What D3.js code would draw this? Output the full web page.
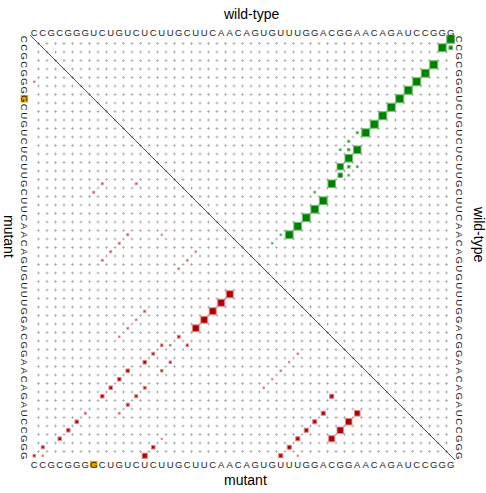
<!DOCTYPE html>
<html><head><meta charset="utf-8">
<script src="https://cdn.jsdelivr.net/npm/d3@7"></script>
<style>html,body{margin:0;padding:0;background:#fff}svg{display:block}</style>
</head><body><svg id="c" width="486" height="493"></svg>
<script>
const wtSeq = "CCGCGGGUCUGUCUCUUGCUUCAACAGUGUUUGGACGGAACAGAUCCGGG".split("");
const mutSeq = "CCGCGGGGCUGUCUCUUGCUUCAACAGUGUUUGGACGGAACAGAUCCGGG".split("");
const mutPositions = [7];

// wild-type pair probabilities (i < j), drawn in upper triangle (row i, col j)
const wtI = [0,1,1,3,4,5,6,7,8,9,10,11,11,12,13,13,13,14,15,15,15,16,16,17,18,19,20,21,22,23,23,24];
const wtJ = [49,48,49,47,46,45,44,43,42,41,40,39,38,37,38,37,36,37,36,37,38,36,37,35,33,34,33,32,31,30,29,28];
const wtP = [0.95,0.92,0.2,0.95,0.95,0.95,0.95,0.95,0.95,0.95,0.95,0.93,0.06,0.06,0.85,0.08,0.05,0.85,0.6,0.1,0.05,0.3,0.04,0.85,0.04,0.9,0.9,0.9,0.9,0.9,0.03,0.03];

// mutant pair probabilities (i < j), drawn in lower triangle (row j, col i)
const mutI = [0,8,12,7,11,10,9,8,13,12,11,10,13,11,10,9,13,8,12,11,6,10,5,4,3,1,0,1,13,15,19,18,17,23,22,21,20,19,17,15,16,18,14,16,15,27,15,14,31,30,29,28,35,34,38,33,37,32,36,31,35,30,29,31];
const mutJ = [5,17,17,18,23,24,25,26,32,33,34,35,38,39,40,41,41,42,42,43,44,44,45,46,47,48,49,49,49,23,25,26,27,30,31,32,33,34,35,36,36,36,37,38,39,41,47,48,37,38,39,40,42,44,44,45,45,46,46,47,47,48,49,49];
const mutP = [0.03,0.05,0.05,0.05,0.05,0.05,0.05,0.05,0.06,0.03,0.04,0.03,0.19,0.19,0.19,0.19,0.12,0.19,0.14,0.14,0.05,0.04,0.19,0.19,0.19,0.14,0.1,0.03,0.4,0.02,0.03,0.04,0.04,0.75,0.75,0.72,0.7,0.7,0.12,0.09,0.04,0.09,0.12,0.09,0.09,0.03,0.02,0.19,0.03,0.02,0.03,0.02,0.25,0.25,0.47,0.25,0.62,0.25,0.62,0.25,0.56,0.25,0.25,0.02];

const n = wtSeq.length;
const svg = d3.select("#c");
const x = d3.scaleBand().domain(d3.range(n)).range([30, 455]);
const y = d3.scaleBand().domain(d3.range(n)).range([35, 460]);
const bw = x.bandwidth();
const size = d3.scaleSqrt().domain([0, 1]).range([0, 8.2]);
const font = "'Liberation Sans', Arial, Helvetica, sans-serif";

// grid crosses at interior cell corners
const corners = [];
for (let a = 1; a < n; a++) for (let b = 1; b < n; b++) corners.push([a, b]);
const g = svg.append("g").attr("stroke", "#a8a8a8").attr("stroke-width", 0.8);
g.selectAll("path").data(corners).join("path")
  .attr("d", d => {
    const cx = x(d[0]), cy = y(d[1]);
    return `M${cx-1.5},${cy}H${cx+1.5}M${cx},${cy-1.5}V${cy+1.5}`;
  });

// diagonal
svg.append("line").attr("x1", x.range()[0]).attr("y1", y.range()[0])
  .attr("x2", x.range()[1]).attr("y2", y.range()[1])
  .attr("stroke", "#222").attr("stroke-width", 0.8);

// wild-type squares (upper triangle)
const wt = wtI.map((v, k) => ({i: v, j: wtJ[k], p: wtP[k]}));
svg.append("g").selectAll("rect").data(wt).join("rect")
  .attr("x", d => x(d.j) + bw/2 - size(d.p)/2)
  .attr("y", d => y(d.i) + bw/2 - size(d.p)/2)
  .attr("width", d => size(d.p)).attr("height", d => size(d.p))
  .attr("fill", "#008000").attr("stroke", "#6dbf6d").attr("stroke-width", 1);

// mutant squares (lower triangle)
const mt = mutI.map((v, k) => ({i: v, j: mutJ[k], p: mutP[k]}));
svg.append("g").selectAll("rect").data(mt).join("rect")
  .attr("x", d => x(d.i) + bw/2 - size(d.p)/2)
  .attr("y", d => y(d.j) + bw/2 - size(d.p)/2)
  .attr("width", d => size(d.p)).attr("height", d => size(d.p))
  .attr("fill", "#b00000").attr("stroke", "#e28a8a").attr("stroke-width", 1);

// orange highlight boxes for mutated position
mutPositions.forEach(m => {
  svg.append("rect").attr("x", x(m) + bw/2 - 3.8).attr("y", 460.8).attr("width", 7.6).attr("height", 7)
    .attr("fill", "#f5a400");
  svg.append("rect").attr("x", 20.7).attr("y", y(m) + bw/2 - 3.8).attr("width", 7.5).attr("height", 7.6)
    .attr("fill", "#f5a400");
});

// sequence letters
const seqFont = 9.5;
svg.append("g").selectAll("text").data(wtSeq).join("text")
  .attr("x", (d, i) => x(i) + bw/2).attr("y", 35.5)
  .attr("text-anchor", "middle").attr("font-family", font).attr("font-size", seqFont).attr("fill", "#222")
  .text(d => d);
svg.append("g").selectAll("text").data(mutSeq).join("text")
  .attr("x", (d, i) => x(i) + bw/2).attr("y", 468)
  .attr("text-anchor", "middle").attr("font-family", font).attr("font-size", seqFont).attr("fill", "#222")
  .text(d => d);
svg.append("g").selectAll("text").data(mutSeq).join("text")
  .attr("transform", (d, i) => `translate(21.3,${y(i) + bw/2}) rotate(90)`)
  .attr("text-anchor", "middle").attr("font-family", font).attr("font-size", seqFont).attr("fill", "#222")
  .text(d => d);
svg.append("g").selectAll("text").data(wtSeq).join("text")
  .attr("transform", (d, i) => `translate(455.5,${y(i) + bw/2}) rotate(90)`)
  .attr("text-anchor", "middle").attr("font-family", font).attr("font-size", seqFont).attr("fill", "#222")
  .text(d => d);

// titles
svg.append("text").attr("x", 224).attr("y", 18.5).attr("font-family", font).attr("font-size", 14).attr("fill", "#000").text("wild-type");
svg.append("text").attr("x", 224).attr("y", 485).attr("font-family", font).attr("font-size", 14).attr("fill", "#000").text("mutant");
svg.append("text").attr("transform", "translate(3.5,215) rotate(90)").attr("font-family", font).attr("font-size", 14).attr("fill", "#000").text("mutant");
svg.append("text").attr("transform", "translate(474,207) rotate(90)").attr("font-family", font).attr("font-size", 14).attr("fill", "#000").text("wild-type");
</script></body></html>
